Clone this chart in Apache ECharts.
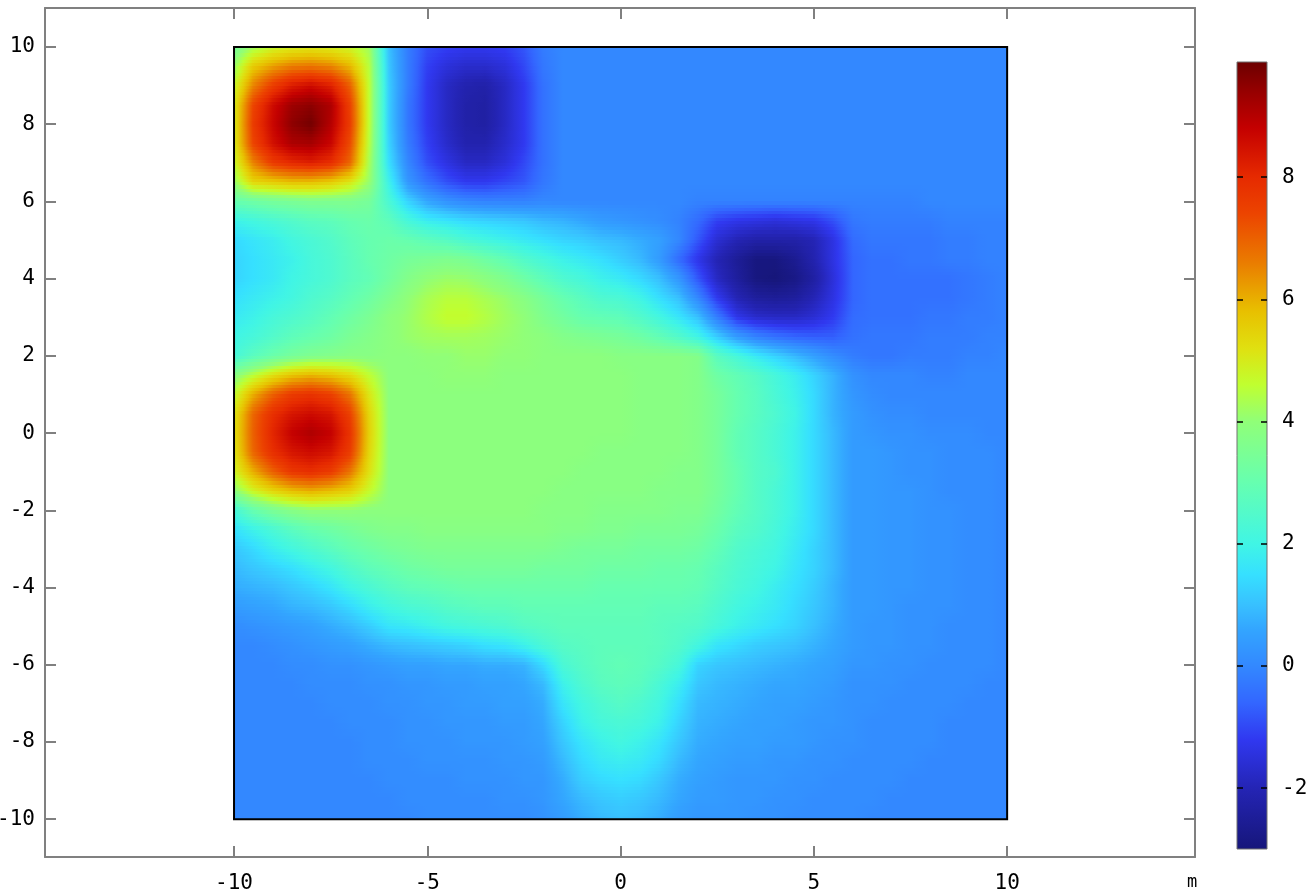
<!DOCTYPE html>
<html>
<head>
<meta charset="utf-8">
<style>html,body{margin:0;padding:0;background:#fff}#main{width:1307px;height:896px}</style>
<script src="https://cdn.jsdelivr.net/npm/echarts@6/dist/echarts.min.js"></script>
</head>
<body>
<div id="main"></div>
<script>
// tick labels
var xTicks=[-10,-5,0,5,10];
var yTicks=[-10,-8,-6,-4,-2,0,2,4,6,8,10];
var barTicks=[-2,0,2,4,6,8];

// node positions of the value table, metres
var xNodes=[-10,-9.5,-9,-8.5,-8,-7.5,-7,-6.5,-6,-5.5,-5,-4.5,-4,-3.5,-3,-2.5,-2,-1.5,-1,-0.5,0,0.5,1,1.5,2,2.5,3,3.5,4,4.5,5,5.5,6,6.5,7,7.5,8,8.5,9,9.5,10];
var yNodes=[10,9.5,9,8.5,8,7.5,7,6.5,6,5.5,5,4.5,4,3.5,3,2.5,2,1.5,1,0.5,0,-0.5,-1,-1.5,-2,-2.5,-3,-3.5,-4,-4.5,-5,-5.5,-6,-6.5,-7,-7.5,-8,-8.5,-9,-9.5,-10];

// surface values, one row per yNodes entry
var surface=[
[3.4,4.2,4.7,4.9,5,4.9,4.7,4.2,1, -.2,-.9,-1.1,-1.2,-1.2,-1.1,-.8,-.2, 0,0,0,0,0,0,0,0, 0,0,0,0,0,0,0,0, 0,0,0,0,0,0,0,0],
[4.1,5.6,6.2,6.6,6.7,6.5,5.9,4.5,1.1, -.2,-1.1,-1.5,-1.7,-1.7,-1.5,-1,-.3, 0,0,0,0,0,0,0,0, 0,0,0,0,0,0,0,0, 0,0,0,0,0,0,0,0],
[4.7,6.5,7.6,8.3,8.6,8.2,7,4.6,1.2, -.2,-1.2,-1.8,-2.1,-2.2,-1.8,-1.2,-.4, 0,0,0,0,0,0,0,0, 0,0,0,0,0,0,0,0, 0,0,0,0,0,0,0,0],
[5,7.4,8.6,9.3,9.5,9.1,7.5,4.6,1.2, -.3,-1.2,-1.8,-2.2,-2.3,-1.8,-1.2,-.4, 0,0,0,0,0,0,0,0, 0,0,0,0,0,0,0,0, 0,0,0,0,0,0,0,0],
[5,7.6,8.7,9.5,9.8,9,7.6,4.6,1.2, -.3,-1.2,-1.8,-2.2,-2.3,-1.8,-1.2,-.4, 0,0,0,0,0,0,0,0, 0,0,0,0,0,0,0,0, 0,0,0,0,0,0,0,0],
[5,7.4,8.5,9.1,9.2,8.7,7.3,4.5,1.3, -.2,-1.1,-1.7,-2.1,-2.1,-1.7,-1.2,-.4, 0,0,0,0,0,0,0,0, 0,0,0,0,0,0,0,0, 0,0,0,0,0,0,0,0],
[4.7,6.5,7.6,8,8.2,7.9,6.9,4.3,1.5, 0,-.9,-1.4,-1.8,-1.8,-1.5,-1,-.4, 0,0,0,0,0,0,0,0, 0,0,0,0,0,0,0,0, 0,0,0,0,0,0,0,0],
[4.1,5.4,5.6,5.8,5.8,5.6,5.1,4.1,1.9, .3,-.4,-.9,-1.2,-1.2,-1,-.8,-.3, 0,0,0,0,0,0,0,0, 0,0,0,0,0,0,0,0, 0,0,0,0,0,0,0,0],
[3,3.2,3.4,3.5,3.6,3.6,3.6,3.4,2.3, 1.3,.6,.2,0,-.1,-.1,-.1,0, 0,0,0,0,0,0,0,-.1, -.1,-.1,-.1,-.1,-.1,-.1,-.1,-.1, -.1,-.1,-.1,0,0,0,0,0],
[1.9,2.1,2.3,2.5,2.7,2.8,3,3.1,2.8, 2.2,1.8,1.6,1.4,1.3,1.2,1.1,.9, .8,.6,.4,.3,.2,.1,-.1,-.5, -1.1,-1.3,-1.4,-1.5,-1.4,-1.3,-.9,-.3, -.2,-.2,-.2,-.2,-.1,-.1,-.1,-.1],
[1.4,1.6,1.8,2.1,2.3,2.5,2.8,3,3.1, 3,2.8,2.6,2.3,2.1,1.9,1.7,1.5, 1.3,1.2,1,.9,.7,.5,0,-.8, -1.6,-2,-2.2,-2.2,-2.2,-2,-1.4,-.5, -.3,-.3,-.3,-.3,-.2,-.2,-.1,-.1],
[1.3,1.5,1.7,1.9,2.2,2.4,2.7,3,3.2, 3.4,3.5,3.6,3.5,3.2,2.9,2.5,2.2, 1.9,1.7,1.5,1.2,.9,.4,-.5,-1.3, -2,-2.5,-2.9,-2.9,-2.6,-2.1,-1.4,-.6, -.4,-.4,-.3,-.3,-.2,-.2,-.1,-.1],
[1.3,1.5,1.7,2,2.2,2.4,2.7,2.9,3.3, 3.7,4,4.15,4.1,3.9,3.6,3.2,2.8, 2.4,2.2,1.9,1.7,1.4,1,.3,-.8, -1.8,-2.4,-2.9,-3,-2.8,-2.3,-1.5,-.6, -.4,-.4,-.4,-.4,-.4,-.3,-.2,-.1],
[1.5,1.7,1.9,2.1,2.4,2.6,2.9,3.2,3.6, 4,4.3,4.5,4.5,4.3,4.1,3.8,3.4, 3,2.7,2.4,2.3,2,1.5,1,0, -1.2,-2,-2.4,-2.5,-2.4,-2,-1.4,-.6, -.4,-.4,-.4,-.4,-.4,-.3,-.2,-.1],
[1.7,1.9,2.2,2.4,2.6,2.9,3.2,3.5,3.9, 4.1,4.4,4.65,4.65,4.45,4.2,4,3.6, 3.3,3,2.9,2.8,2.5,2.1,1.6,1, -.2,-1.3,-1.7,-1.8,-1.8,-1.6,-1.2,-.5, -.4,-.4,-.4,-.3,-.3,-.2,-.2,-.1],
[2,2.2,2.5,2.8,3,3.2,3.5,3.7,3.9, 4.1,4.2,4.25,4.25,4.2,4.1,4,3.9, 3.7,3.6,3.5,3.4,3.2,2.9,2.5,2, 1.2,.4,-.1,-.4,-.6,-.7,-.7,-.4, -.3,-.3,-.3,-.2,-.2,-.2,-.1,-.1],
[2.2,2.7,3.1,3.4,3.6,3.7,3.8,3.8,3.9, 3.9,4,4,4.1,4.1,4,4,3.9, 3.9,3.9,3.9,3.8,3.8,3.8,3.8,3.7, 2.7,2.2,1.7,1.3,.9,.5,.1,-.2, -.3,-.3,-.2,-.2,-.2,-.1,-.1,0],
[3.8,4.5,5.2,5.7,5.9,5.7,5.3,4.6,3.9, 3.9,3.9,4,4,4,3.9,3.9,3.9, 3.9,3.9,3.9,3.9,3.8,3.8,3.8,3.7, 3.2,2.9,2.6,2.2,1.8,1.3,.8,.2, 0,0,0,-.1,-.1,0,0,0],
[4.6,6,7,7.6,7.8,7.5,6.7,5.1,3.9, 3.9,3.9,3.9,3.9,3.9,3.9,3.9,3.9, 3.9,3.9,3.9,3.9,3.8,3.8,3.8,3.7, 3.4,3,2.7,2.3,1.9,1.4,.8,.3, .1,0,0,0,0,0,0,0],
[5.1,6.9,7.9,8.4,8.6,8.4,7.5,5.4,3.9, 3.9,3.9,3.9,3.9,3.9,3.9,3.9,3.9, 3.9,3.9,3.9,3.9,3.8,3.8,3.8,3.7, 3.4,3,2.7,2.4,2,1.4,.8,.4, .2,.1,.1,0,0,0,0,0],
[5.2,7,8.1,8.8,9.1,8.8,7.8,5.5,3.9, 3.9,3.9,3.9,3.9,3.9,3.9,3.9,3.9, 3.9,3.9,3.9,3.9,3.8,3.8,3.8,3.7, 3.4,2.9,2.6,2.3,1.9,1.4,.9,.4, .3,.2,.2,.1,.1,.1,0,0],
[5.1,6.9,7.9,8.4,8.6,8.4,7.6,5.4,3.9, 3.9,3.9,3.9,3.9,3.9,3.9,3.9,3.9, 3.9,3.9,3.8,3.8,3.8,3.8,3.8,3.7, 3.4,2.9,2.6,2.3,1.9,1.4,.9,.4, .4,.3,.2,.2,.1,.1,.1,0],
[4.8,6,7,7.7,7.9,7.6,6.7,5.2,3.9, 3.9,3.9,3.9,3.9,3.9,3.9,3.9,3.9, 3.9,3.8,3.8,3.8,3.8,3.8,3.7,3.7, 3.4,3,2.6,2.4,1.9,1.4,.9,.4, .4,.3,.2,.2,.1,.1,.1,0],
[3.9,4.8,5.4,5.8,6,5.8,5.5,4.7,3.9, 3.9,3.9,3.9,3.9,3.9,3.9,3.9,3.9, 3.8,3.8,3.8,3.8,3.8,3.7,3.7,3.7, 3.4,3,2.6,2.3,1.9,1.4,.9,.4, .4,.3,.3,.2,.1,.1,.1,0],
[2.2,3,3.5,3.8,4,4,4,3.9,3.9, 3.9,3.9,3.9,3.9,3.9,3.9,3.9,3.8, 3.8,3.8,3.7,3.7,3.7,3.7,3.6,3.6, 3.3,2.9,2.6,2.3,1.9,1.4,.9,.4, .4,.3,.3,.2,.2,.1,.1,0],
[1.5,1.9,2.3,2.7,3,3.2,3.4,3.6,3.7, 3.7,3.8,3.8,3.8,3.8,3.8,3.8,3.8, 3.7,3.7,3.6,3.6,3.5,3.5,3.5,3.4, 3.1,2.7,2.5,2.2,1.8,1.4,.9,.4, .4,.3,.3,.2,.2,.1,.1,0],
[1.1,1.4,1.8,2.1,2.4,2.7,3,3.2,3.4, 3.5,3.6,3.6,3.6,3.6,3.6,3.6,3.6, 3.5,3.4,3.4,3.4,3.3,3.3,3.3,3.2, 2.9,2.5,2.3,2.1,1.7,1.3,.9,.4, .4,.3,.3,.2,.2,.1,.1,0],
[.9,1.1,1.3,1.5,1.8,2.1,2.5,2.8,3, 3.2,3.3,3.4,3.4,3.4,3.4,3.4,3.3, 3.3,3.3,3.2,3.2,3.2,3.1,3.1,3, 2.7,2.4,2.2,2,1.6,1.3,.9,.4, .4,.3,.3,.2,.2,.1,.1,0],
[.7,.8,.9,1.1,1.3,1.6,2,2.3,2.6, 2.8,2.9,3,3.1,3.1,3.1,3.1,3.1, 3.1,3.1,3,3,3,3,3,2.9, 2.6,2.3,2.1,1.8,1.5,1.2,.8,.4, .4,.3,.3,.2,.2,.1,.1,0],
[.4,.5,.6,.8,.9,1.1,1.4,1.8,2.1, 2.3,2.4,2.6,2.7,2.8,2.8,2.9,2.9, 2.9,2.9,2.9,2.9,2.9,2.8,2.8,2.7, 2.4,2.1,1.9,1.7,1.4,1.1,.8,.4, .4,.3,.2,.2,.2,.1,.1,0],
[.1,.2,.3,.4,.5,.7,.9,1.2,1.6, 1.7,1.9,2.1,2.2,2.3,2.4,2.6,2.7, 2.8,2.8,2.8,2.8,2.8,2.7,2.6,2.5, 2.2,1.9,1.7,1.5,1.3,1,.7,.4, .3,.3,.2,.2,.1,.1,.1,0],
[0,0,.1,.2,.3,.4,.5,.7,.9, 1,1.1,1.2,1.3,1.5,1.6,1.9,2.3, 2.6,2.7,2.8,2.8,2.8,2.7,2.5,2.1, 1.6,1.4,1.2,1.1,1,.8,.6,.4, .3,.3,.2,.2,.1,.1,.1,0],
[0,0,0,.1,.1,.2,.2,.3,.4, .5,.5,.6,.6,.7,.7,.8,1.4, 2.3,2.6,2.8,2.9,2.8,2.6,2.2,1.3, 1.1,1,.9,.8,.7,.6,.5,.3, .3,.2,.2,.1,.1,.1,.1,0],
[0,0,0,0,.1,.1,.1,.2,.2, .3,.3,.4,.4,.5,.5,.6,.9, 1.9,2.4,2.7,2.8,2.7,2.3,1.8,1.1, .9,.8,.7,.6,.6,.5,.4,.2, .2,.2,.1,.1,.1,.1,0,0],
[0,0,0,0,0,.1,.1,.1,.2, .2,.3,.3,.4,.4,.5,.5,.7, 1.6,2.1,2.4,2.6,2.4,2.1,1.5,.9, .8,.7,.6,.5,.5,.4,.3,.2, .2,.1,.1,.1,.1,0,0,0],
[0,0,0,0,0,0,.1,.1,.1, .2,.2,.3,.3,.3,.4,.4,.6, 1.3,1.9,2.2,2.3,2.2,1.9,1.3,.8, .7,.6,.5,.5,.4,.3,.3,.2, .1,.1,.1,.1,0,0,0,0],
[0,0,0,0,0,0,0,.1,.1, .2,.2,.2,.3,.3,.3,.4,.5, 1.1,1.6,1.9,2.1,1.9,1.6,1.1,.7, .6,.5,.5,.4,.4,.3,.2,.2, .1,.1,.1,.1,0,0,0,0],
[0,0,0,0,0,0,0,.1,.1, .1,.2,.2,.2,.2,.3,.3,.4, .9,1.4,1.7,1.8,1.7,1.4,.9,.6, .5,.4,.4,.3,.3,.2,.2,.1, .1,.1,.1,0,0,0,0,0],
[0,0,0,0,0,0,0,0,.1, .1,.1,.1,.2,.2,.2,.3,.3, .7,1.2,1.4,1.5,1.4,1.1,.7,.5, .4,.3,.3,.3,.2,.2,.1,.1, .1,.1,0,0,0,0,0,0],
[0,0,0,0,0,0,0,0,0, .1,.1,.1,.1,.1,.2,.2,.3, .6,.9,1.1,1.2,1.1,.9,.6,.4, .4,.3,.3,.2,.2,.1,.1,.1, .1,0,0,0,0,0,0,0],
[0,0,0,0,0,0,0,0,0, 0,.1,.1,.1,.1,.1,.1,.2, .4,.7,.9,1,.9,.7,.4,.3, .3,.3,.2,.2,.1,.1,.1,.1, 0,0,0,0,0,0,0,0]
];

// colour table of the scale
var scaleValues=[-3,-2,-1.2,-.6,0,.6,1,1.5,2,3,4,4.6,5.2,5.8,6.6,7.4,8,8.8,9.4,9.885];
var scaleColors=['#16167a','#2424b4','#3038f0','#3366ff','#3388ff','#33a5ff','#38c0ff','#36e0ff','#40f5e5','#66ffb0','#90ff78','#c0ff30','#e0e010','#e8c000','#ea7c00','#ec4400','#e62a00','#c40000','#960000','#6c0000'];
var barMin=-2.995, barMax=9.885;

function colorOf(v){
    var n=scaleValues.length;
    if(v<=scaleValues[0]) return scaleColors[0];
    if(v>=scaleValues[n-1]) return scaleColors[n-1];
    for(var i=1;i<n;i++){
        if(v<=scaleValues[i]){
            var t=(v-scaleValues[i-1])/(scaleValues[i]-scaleValues[i-1]);
            return echarts.color.lerp(t,[scaleColors[i-1],scaleColors[i]]);
        }
    }
}

var stripCount=6;  //每个单元竖向切几条，单元内按四角值着色
var sampleCount=4;

function renderCell(params,api){
    var x0=api.value(0),y0=api.value(1),x1=api.value(2),y1=api.value(3);
    var a=api.value(4),b=api.value(5),c=api.value(6),d=api.value(7);
    var p0=api.coord([x0,y0]),p1=api.coord([x1,y1]);
    var left0=Math.round(p0[0]),right0=Math.round(p1[0]);
    var h=(p1[1]-p0[1])/stripCount;
    var children=[];
    for(var s=0;s<stripCount;s++){
        var t=(s+0.5)/stripCount;
        var left=a+(c-a)*t,right=b+(d-b)*t;
        var top=Math.round(p0[1]+h*s),bottom=Math.round(p0[1]+h*(s+1));
        var stops=[];
        for(var k=0;k<=sampleCount;k++){
            var u=k/sampleCount;
            stops.push({offset:u,color:colorOf(left+(right-left)*u)});
        }
        children.push({
            type:'rect',
            shape:{x:left0,y:top,width:right0-left0,height:bottom-top},
            style:{fill:new echarts.graphic.LinearGradient(0,0,1,0,stops)},
            silent:true
        });
    }
    return {type:'group',children:children};
}

var cells=[];
for(var r=0;r<yNodes.length-1;r++){
    for(var c=0;c<xNodes.length-1;c++){
        cells.push([xNodes[c],yNodes[r],xNodes[c+1],yNodes[r+1],surface[r][c],surface[r][c+1],surface[r+1][c],surface[r+1][c+1]]);
    }
}

var labelFont={fontFamily:'DejaVu Sans Mono',fontSize:21,color:'#000'};

function mainAxis(pos,ticks,min,max,showLabel,margin,pad){
    return {
        type:'value',position:pos,min:min,max:max,
        axisLine:{show:true,onZero:false,lineStyle:{color:'#808080',width:2}},
        axisTick:{show:true,inside:true,length:11,customValues:ticks,lineStyle:{color:'#808080',width:2}},
        axisLabel:showLabel?Object.assign({show:true,margin:margin,padding:pad,customValues:ticks},labelFont):{show:false},
        splitLine:{show:false},gridIndex:0
    };
}
function barAxis(pos,showLabel){
    return {
        type:'value',position:pos,min:barMin,max:barMax,gridIndex:1,z:5,
        axisLine:{show:false},
        axisTick:{show:true,inside:true,length:6,customValues:barTicks,lineStyle:{color:'#000',width:1.5}},
        axisLabel:showLabel?Object.assign({show:true,margin:15,padding:[3,0,0,0],customValues:barTicks},labelFont):{show:false},
        splitLine:{show:false}
    };
}

var chart=echarts.init(document.getElementById('main'),null,{renderer:'canvas'});
chart.setOption({
    animation:false,
    backgroundColor:'#fff',
    grid:[
        {left:45,top:8,width:1150,height:849,outerBoundsMode:'none'},
        {left:1237,top:62,width:30,height:787,outerBoundsMode:'none'}
    ],
    xAxis:[
        mainAxis('bottom',xTicks,-14.89,14.86,true,16,0),
        mainAxis('top',xTicks,-14.89,14.86,false),
        {type:'value',gridIndex:1,min:0,max:1,show:false}
    ],
    yAxis:[
        mainAxis('left',yTicks,-10.98,11.01,true,10,[4,0,0,0]),
        mainAxis('right',yTicks,-10.98,11.01,false),
        barAxis('left',false),
        barAxis('right',true)
    ],
    graphic:[{type:'text',left:1187,top:874,silent:true,style:{text:'m',fontFamily:'DejaVu Sans Mono',fontSize:17,fill:'#000'}}],
    series:[
        {
            type:'custom',xAxisIndex:0,yAxisIndex:0,clip:false,silent:true,z:2,
            progressive:0,
            encode:{x:[0,2],y:[1,3]},
            data:cells,
            renderItem:renderCell
        },
        {   //计算域边框
            type:'custom',xAxisIndex:0,yAxisIndex:0,clip:false,silent:true,z:3,
            encode:{x:[0,2],y:[1,3]},
            data:[[-10,10,10,-10]],
            renderItem:function(params,api){
                var p0=api.coord([api.value(0),api.value(1)]),p1=api.coord([api.value(2),api.value(3)]);
                return {type:'rect',shape:{x:p0[0],y:p0[1],width:p1[0]-p0[0],height:p1[1]-p0[1]},
                    style:{fill:'none',stroke:'#000',lineWidth:2}};
            }
        },
        {   //色标
            type:'custom',xAxisIndex:2,yAxisIndex:2,clip:false,silent:true,z:2,
            encode:{x:[0,2],y:[1,3]},
            data:[[0,barMax,1,barMin]],
            renderItem:function(params,api){
                var p0=api.coord([api.value(0),api.value(1)]),p1=api.coord([api.value(2),api.value(3)]);
                var stops=scaleValues.map(function(v,i){
                    return {offset:(barMax-v)/(barMax-barMin),color:scaleColors[i]};
                }).reverse();
                stops[stops.length-1].offset=1;
                return {type:'rect',shape:{x:p0[0],y:p0[1],width:p1[0]-p0[0],height:p1[1]-p0[1]},
                    style:{fill:new echarts.graphic.LinearGradient(0,0,0,1,stops),stroke:'#707070',lineWidth:1}};
            }
        }
    ]
});
</script>
</body>
</html>
